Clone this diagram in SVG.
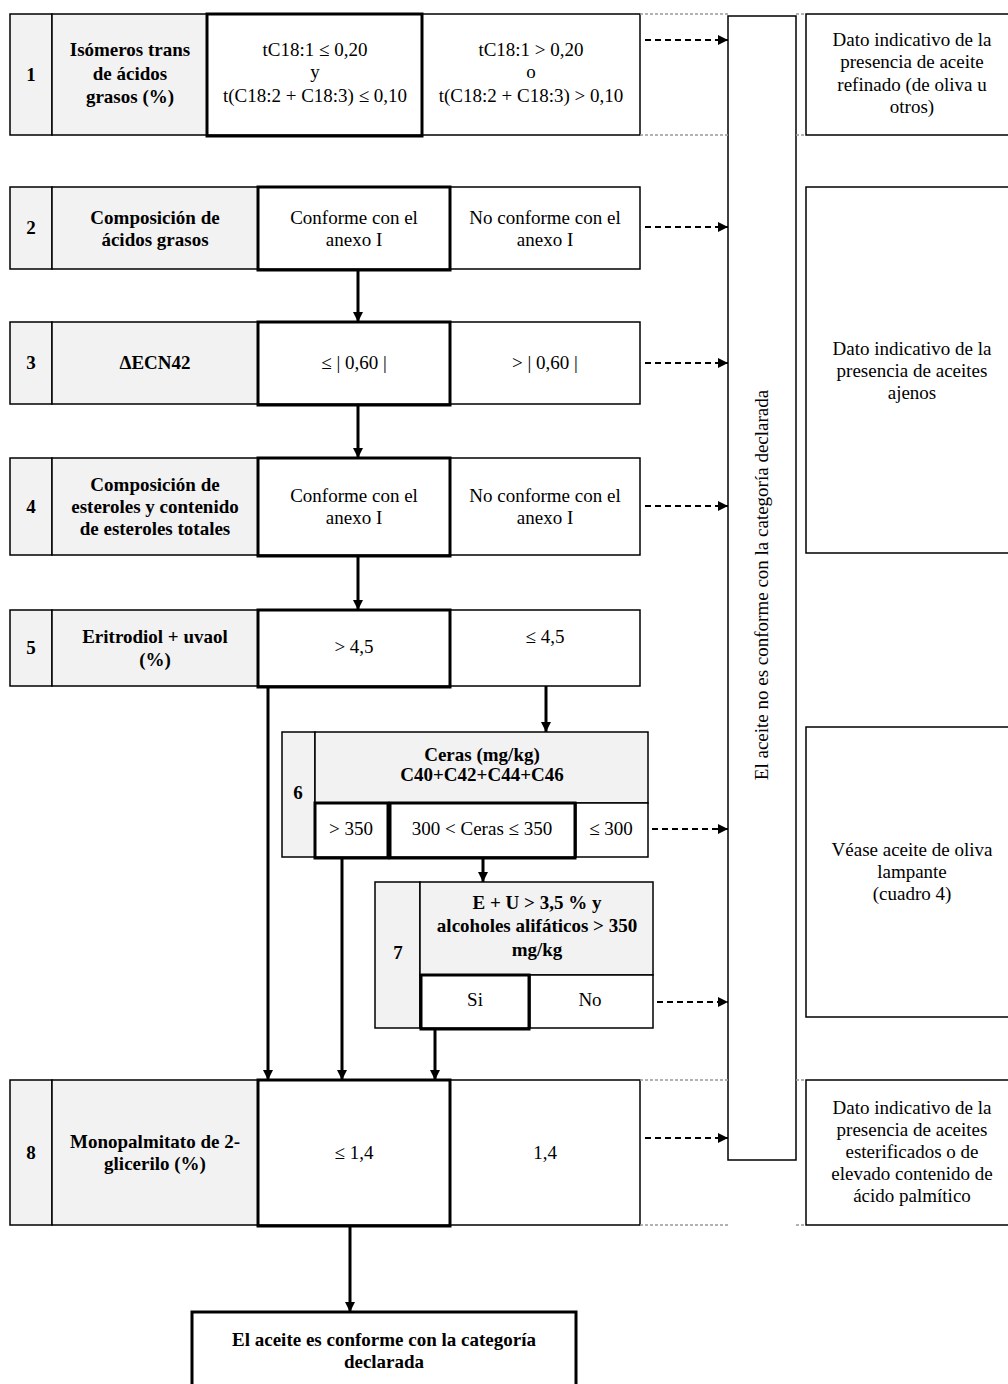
<svg xmlns="http://www.w3.org/2000/svg" width="1008" height="1384" viewBox="0 0 1008 1384">
<style>
text{font-family:"Liberation Serif","Times New Roman",serif;font-size:19px;fill:#000;text-anchor:middle}
.b{font-weight:bold}
.cell{fill:#fff;stroke:#000;stroke-width:1.5}
.g{fill:#f2f2f2;stroke:#000;stroke-width:1.5}
.thick{fill:none;stroke:#000;stroke-width:3}
.sol{stroke:#000;stroke-width:3;fill:none}
.dash{stroke:#000;stroke-width:2;stroke-dasharray:6 4;fill:none}
.dot{stroke:#999;stroke-width:1.5;stroke-dasharray:3 2;fill:none}
</style>
<defs>
<marker id="ah" viewBox="0 0 10 10" refX="10" refY="5" markerWidth="10" markerHeight="10" markerUnits="userSpaceOnUse" orient="auto"><path d="M0,0 L10,5 L0,10 z" fill="#000"/></marker>
<marker id="ahs" viewBox="0 0 10 10" refX="10" refY="5" markerWidth="10" markerHeight="10" markerUnits="userSpaceOnUse" orient="auto"><path d="M0,0 L10,5 L0,10 z" fill="#000"/></marker>
</defs>
<rect width="1008" height="1384" fill="#fff"/>

<g id="column">
<rect x="728" y="16" width="68" height="1144" class="cell"/>
<text transform="translate(768,585) rotate(-90)">El aceite no es conforme con la categoría declarada</text>
</g>

<g id="row1">
<rect x="10" y="14" width="42" height="121" class="g"/>
<rect x="52" y="14" width="155" height="121" class="g"/>
<rect x="207" y="14" width="215" height="121" class="cell"/>
<rect x="422" y="14" width="218" height="121" class="cell"/>
<rect x="207" y="14" width="215" height="122" class="thick"/>
<text x="31" y="81" class="b">1</text>
<text x="130" y="56" class="b">Isómeros trans</text>
<text x="130" y="80" class="b">de ácidos</text>
<text x="130" y="103" class="b">grasos (%)</text>
<text x="315" y="56">tC18:1 ≤ 0,20</text>
<text x="315" y="78">y</text>
<text x="315" y="102">t(C18:2 + C18:3) ≤ 0,10</text>
<text x="531" y="56">tC18:1 &gt; 0,20</text>
<text x="531" y="78">o</text>
<text x="531" y="102">t(C18:2 + C18:3) &gt; 0,10</text>
</g>

<g id="row2">
<rect x="10" y="187" width="42" height="82" class="g"/>
<rect x="52" y="187" width="206" height="82" class="g"/>
<rect x="258" y="187" width="192" height="82" class="cell"/>
<rect x="450" y="187" width="190" height="82" class="cell"/>
<rect x="258" y="187" width="192" height="83" class="thick"/>
<text x="31" y="234" class="b">2</text>
<text x="155" y="224" class="b">Composición de</text>
<text x="155" y="246" class="b">ácidos grasos</text>
<text x="354" y="224">Conforme con el</text>
<text x="354" y="246">anexo I</text>
<text x="545" y="224">No conforme con el</text>
<text x="545" y="246">anexo I</text>
</g>

<g id="row3">
<rect x="10" y="322" width="42" height="82" class="g"/>
<rect x="52" y="322" width="206" height="82" class="g"/>
<rect x="258" y="322" width="192" height="82" class="cell"/>
<rect x="450" y="322" width="190" height="82" class="cell"/>
<rect x="258" y="322" width="192" height="83" class="thick"/>
<text x="31" y="369" class="b">3</text>
<text x="155" y="369" class="b">ΔECN42</text>
<text x="354" y="369">≤ | 0,60 |</text>
<text x="545" y="369">&gt; | 0,60 |</text>
</g>

<g id="row4">
<rect x="10" y="458" width="42" height="97" class="g"/>
<rect x="52" y="458" width="206" height="97" class="g"/>
<rect x="258" y="458" width="192" height="97" class="cell"/>
<rect x="450" y="458" width="190" height="97" class="cell"/>
<rect x="258" y="458" width="192" height="98" class="thick"/>
<text x="31" y="513" class="b">4</text>
<text x="155" y="491" class="b">Composición de</text>
<text x="155" y="513" class="b">esteroles y contenido</text>
<text x="155" y="535" class="b">de esteroles totales</text>
<text x="354" y="502">Conforme con el</text>
<text x="354" y="524">anexo I</text>
<text x="545" y="502">No conforme con el</text>
<text x="545" y="524">anexo I</text>
</g>

<g id="row5">
<rect x="10" y="610" width="42" height="76" class="g"/>
<rect x="52" y="610" width="206" height="76" class="g"/>
<rect x="258" y="610" width="192" height="76" class="cell"/>
<rect x="450" y="610" width="190" height="76" class="cell"/>
<rect x="258" y="610" width="192" height="77" class="thick"/>
<text x="31" y="654" class="b">5</text>
<text x="155" y="643" class="b">Eritrodiol + uvaol</text>
<text x="155" y="666" class="b">(%)</text>
<text x="354" y="653">&gt; 4,5</text>
<text x="545" y="643">≤ 4,5</text>
</g>

<g id="row6">
<rect x="282" y="732" width="33" height="125" class="g"/>
<rect x="315" y="732" width="333" height="71" class="g"/>
<rect x="315" y="803" width="73" height="54" class="cell"/>
<rect x="388" y="803" width="188" height="54" class="cell"/>
<rect x="576" y="803" width="72" height="54" class="cell"/>
<rect x="315" y="803" width="73" height="55" class="thick"/>
<rect x="390" y="803" width="185" height="55" class="thick"/>
<text x="298" y="799" class="b">6</text>
<text x="482" y="761" class="b">Ceras (mg/kg)</text>
<text x="482" y="781" class="b">C40+C42+C44+C46</text>
<text x="351" y="835">&gt; 350</text>
<text x="482" y="835">300 &lt; Ceras ≤ 350</text>
<text x="611" y="835">≤ 300</text>
</g>

<g id="row7">
<rect x="375" y="882" width="45" height="146" class="g"/>
<rect x="420" y="882" width="233" height="93" class="g"/>
<rect x="420" y="975" width="110" height="53" class="cell"/>
<rect x="530" y="975" width="123" height="53" class="cell"/>
<rect x="421" y="975" width="108" height="54" class="thick"/>
<text x="398" y="959" class="b">7</text>
<text x="537" y="909" class="b">E + U &gt; 3,5 % y</text>
<text x="537" y="932" class="b">alcoholes alifáticos &gt; 350</text>
<text x="537" y="956" class="b">mg/kg</text>
<text x="475" y="1006">Si</text>
<text x="590" y="1006">No</text>
</g>

<g id="row8">
<rect x="10" y="1080" width="42" height="145" class="g"/>
<rect x="52" y="1080" width="206" height="145" class="g"/>
<rect x="258" y="1080" width="192" height="145" class="cell"/>
<rect x="450" y="1080" width="190" height="145" class="cell"/>
<rect x="258" y="1080" width="192" height="146" class="thick"/>
<text x="31" y="1159" class="b">8</text>
<text x="155" y="1148" class="b">Monopalmitato de 2-</text>
<text x="155" y="1170" class="b">glicerilo (%)</text>
<text x="354" y="1159">≤ 1,4</text>
<text x="545" y="1159">1,4</text>
</g>

<g id="result">
<rect x="192" y="1312" width="384" height="90" class="thick" fill="#fff"/>
<text x="384" y="1346" class="b">El aceite es conforme con la categoría</text>
<text x="384" y="1368" class="b">declarada</text>
</g>

<g id="note1">
<rect x="806" y="14" width="210" height="121" class="cell"/>
<text x="912" y="46">Dato indicativo de la</text>
<text x="912" y="68">presencia de aceite</text>
<text x="912" y="91">refinado (de oliva u</text>
<text x="912" y="113">otros)</text>
</g>
<g id="note2">
<rect x="806" y="187" width="210" height="366" class="cell"/>
<text x="912" y="355">Dato indicativo de la</text>
<text x="912" y="377">presencia de aceites</text>
<text x="912" y="399">ajenos</text>
</g>
<g id="note3">
<rect x="806" y="727" width="210" height="290" class="cell"/>
<text x="912" y="856">Véase aceite de oliva</text>
<text x="912" y="878">lampante</text>
<text x="912" y="900">(cuadro 4)</text>
</g>
<g id="note4">
<rect x="806" y="1080" width="210" height="145" class="cell"/>
<text x="912" y="1114">Dato indicativo de la</text>
<text x="912" y="1136">presencia de aceites</text>
<text x="912" y="1158">esterificados o de</text>
<text x="912" y="1180">elevado contenido de</text>
<text x="912" y="1202">ácido palmítico</text>
</g>

<g id="connectors">
<path class="dot" d="M640,14 H728 M796,14 H806 M640,135 H728 M796,135 H806 M640,1080 H728 M796,1080 H806 M640,1225 H728 M796,1225 H806"/>
<path class="sol" d="M358,270 V322" marker-end="url(#ah)"/>
<path class="sol" d="M358,405 V458" marker-end="url(#ah)"/>
<path class="sol" d="M358,556 V610" marker-end="url(#ah)"/>
<path class="sol" d="M546,686 V732" marker-end="url(#ah)"/>
<path class="sol" d="M268,687 V1080" marker-end="url(#ah)"/>
<path class="sol" d="M342,858 V1080" marker-end="url(#ah)"/>
<path class="sol" d="M483,858 V882" marker-end="url(#ah)"/>
<path class="sol" d="M435,1029 V1080" marker-end="url(#ah)"/>
<path class="sol" d="M350,1226 V1312" marker-end="url(#ah)"/>
<path class="dash" d="M645,40 H728" marker-end="url(#ahs)"/>
<path class="dash" d="M645,227 H728" marker-end="url(#ahs)"/>
<path class="dash" d="M645,363 H728" marker-end="url(#ahs)"/>
<path class="dash" d="M645,506 H728" marker-end="url(#ahs)"/>
<path class="dash" d="M652,829 H728" marker-end="url(#ahs)"/>
<path class="dash" d="M657,1002 H728" marker-end="url(#ahs)"/>
<path class="dash" d="M645,1138 H728" marker-end="url(#ahs)"/>
</g>
</svg>
